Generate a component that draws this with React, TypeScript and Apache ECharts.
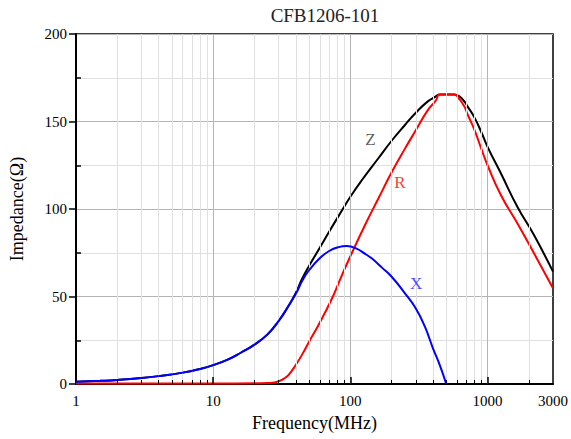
import React, { useEffect, useRef } from "react";
import * as echarts from "echarts";

const TITLE = "CFB1206-101";
const X_NAME = "Frequency(MHz)";
const Y_NAME = "Impedance(Ω)";

// [frequency MHz, impedance Ω]
const zData: [number, number][] = [
  [1, 1.3], [1.5, 1.8], [2, 2.3], [3, 3.4], [4, 4.5], [6, 6.5], [8, 8.6], [10, 10.8],
  [13, 14.2], [16, 18], [20, 22.5], [25, 28.5], [30, 36], [35, 44], [40, 52],
  [44.4, 60], [50, 67.5], [60, 78], [70, 87], [85, 98], [100, 107], [120, 116],
  [160, 129], [200, 139], [250, 148], [300, 155], [367, 161.5], [420, 164.3], [447, 165.5],
  [500, 165.5], [574, 165.5], [620, 164.5], [678, 161.5], [716, 158.5], [800, 152.5],
  [900, 144], [1000, 135.5], [1250, 120.4], [1649, 101.3], [2180, 85.1], [3000, 64.2],
];

const rData: [number, number][] = [
  [1, 0.3], [10, 0.3], [20, 0.4], [25, 0.6], [28, 0.9], [31, 2], [33.5, 3.6], [35.5, 5.2],
  [40, 10.9], [45, 17.5], [50, 24.2], [58.6, 33.7], [73, 48.4], [85, 60.5], [100, 73],
  [130, 92], [160, 106], [200, 121], [250, 134.5], [300, 145], [367, 156.5], [420, 162],
  [447, 165.5], [500, 165.5], [574, 165.5], [620, 163], [678, 158.5], [716, 154],
  [800, 145.5], [900, 134.5], [1000, 125], [1250, 108], [1649, 91.8], [2180, 74.7], [3000, 54.7],
];

const xData: [number, number][] = [
  [1, 1.3], [1.5, 1.8], [2, 2.3], [3, 3.4], [4, 4.5], [6, 6.5], [8, 8.6], [10, 10.8],
  [13, 14.2], [16, 18], [20, 22.5], [25, 28.5], [30, 36], [35, 44], [40, 51.5],
  [45, 59.5], [50, 65], [60, 72], [70, 76], [82, 78.2], [94, 78.8], [110, 77.5],
  [130, 74], [143, 71.8], [170, 66.5], [200, 61.3], [250, 51.8], [300, 43.2],
  [350, 32.6], [400, 20.4], [450, 10.5], [500, 0],
];

const curveNames = ["Z", "R", "X"];
const curveColors = ["#000000", "#ff0000", "#0000ff"];

// label anchor positions [frequency, impedance]
const labelPositions: [number, number][] = [[140, 140], [230, 115.4], [301, 57.7]];
const labelColors = ["#333333", "#ff0000", "#1a1aff"];

const xTickLabels = [1, 10, 100, 1000, 3000];
const xMajorValues = [10, 100, 1000];
const xMinorValues = [
  2, 3, 4, 5, 6, 7, 8, 9,
  20, 30, 40, 50, 60, 70, 80, 90,
  200, 300, 400, 500, 600, 700, 800, 900,
  2000,
];
const MINOR_TICK_HEIGHT = 2.3; // Ω units (~4px)
const MAJOR_TICK_HEIGHT = 4; // Ω units (~7px)

const FONT = "'Liberation Serif', 'DejaVu Serif', serif";

function vLines(values: number[], color: string, z: number) {
  return {
    type: "line",
    data: [],
    silent: true,
    z,
    markLine: {
      silent: true,
      symbol: ["none", "none"],
      label: { show: false },
      lineStyle: { type: "solid", color, width: 1 },
      data: values.map((v) => ({ xAxis: v })),
    },
  };
}

function tickMarks(values: number[], h: number, width: number) {
  return {
    type: "line",
    data: [],
    silent: true,
    z: 8,
    markLine: {
      silent: true,
      symbol: ["none", "none"],
      label: { show: false },
      lineStyle: { type: "solid", color: "#000", width },
      data: values.map((v) => [{ coord: [v, 0] }, { coord: [v, h] }]),
    },
  };
}

export default function App() {
  const ref = useRef<HTMLDivElement>(null);
  useEffect(() => {
    if (!ref.current) return;
    const chart = echarts.init(ref.current, undefined, { renderer: "svg" });
    const curves = [zData, rData, xData];
    chart.setOption({
      animation: false,
      backgroundColor: "#ffffff",
      title: {
        text: TITLE,
        left: 325,
        top: 6,
        padding: 0,
        textAlign: "center",
        textStyle: { fontFamily: FONT, fontSize: 19, fontWeight: "normal", color: "#222" },
      },
      grid: {
        left: 76, right: 16, top: 34, bottom: 55,
        show: true, borderColor: "#000", borderWidth: 1.5,
      },
      xAxis: {
        type: "log",
        logBase: 10,
        min: 1,
        max: 3000,
        splitNumber: 3,
        name: X_NAME,
        nameLocation: "middle",
        nameGap: 30,
        nameTextStyle: { fontFamily: FONT, fontSize: 18, color: "#000" },
        axisLine: { show: true, lineStyle: { color: "#000", width: 2 } },
        axisTick: { show: false },
        minorTick: { show: false },
        axisLabel: {
          fontFamily: FONT, fontSize: 15, color: "#000", margin: 9,
          formatter: (v: number) => {
            const m = xTickLabels.find((t) => Math.abs(t - v) / t < 1e-6);
            return m !== undefined ? String(m) : "";
          },
        },
        splitLine: { show: false },
        minorSplitLine: { show: false },
      },
      yAxis: [
        {
          type: "value",
          min: 0,
          max: 200,
          interval: 50,
          name: Y_NAME,
          nameLocation: "middle",
          nameGap: 50,
          nameTextStyle: { fontFamily: FONT, fontSize: 18, color: "#000" },
          axisLine: { show: true, lineStyle: { color: "#000", width: 2 } },
          axisTick: { show: true, inside: false, length: 7, lineStyle: { color: "#000", width: 1.5 } },
          minorTick: { show: false, splitNumber: 2 },
          axisLabel: { fontFamily: FONT, fontSize: 15, color: "#000", margin: 9 },
          splitLine: { show: true, lineStyle: { color: "#b4b4b4", width: 1 } },
          minorSplitLine: { show: true, lineStyle: { color: "#e0e0e0", width: 1 } },
        },
        {
          type: "value",
          min: 0,
          max: 200,
          interval: 50,
          position: "left",
          offset: 0,
          axisLine: { show: false },
          axisTick: { show: false, inside: true },
          minorTick: { show: true, splitNumber: 2, length: 5, lineStyle: { color: "#000", width: 1.5 } },
          axisLabel: { show: false },
          splitLine: { show: false },
        },
      ],
      series: [
        vLines(xMinorValues, "#e0e0e0", 1),
        vLines(xMajorValues, "#b4b4b4", 1),
        tickMarks(xMinorValues, MINOR_TICK_HEIGHT, 1),
        tickMarks(xMajorValues, MAJOR_TICK_HEIGHT, 1.5),
        ...curves.map((d, i) => ({
          type: "line",
          name: curveNames[i],
          data: d,
          smooth: 0.5,
          showSymbol: false,
          symbol: "none",
          lineStyle: { color: curveColors[i], width: 2 },
          z: 3 + i,
        })),
        {
          type: "scatter",
          symbolSize: 0,
          z: 10,
          data: labelPositions.map((p, i) => ({
            value: p,
            name: curveNames[i],
            label: {
              show: true,
              position: "inside",
              formatter: curveNames[i],
              color: labelColors[i],
              fontFamily: FONT,
              fontSize: 17,
            },
          })),
        },
      ],
    });
    return () => chart.dispose();
  }, []);
  return <div ref={ref} style={{ width: 571, height: 439, position: "absolute", left: 0, top: 0 }} />;
}
